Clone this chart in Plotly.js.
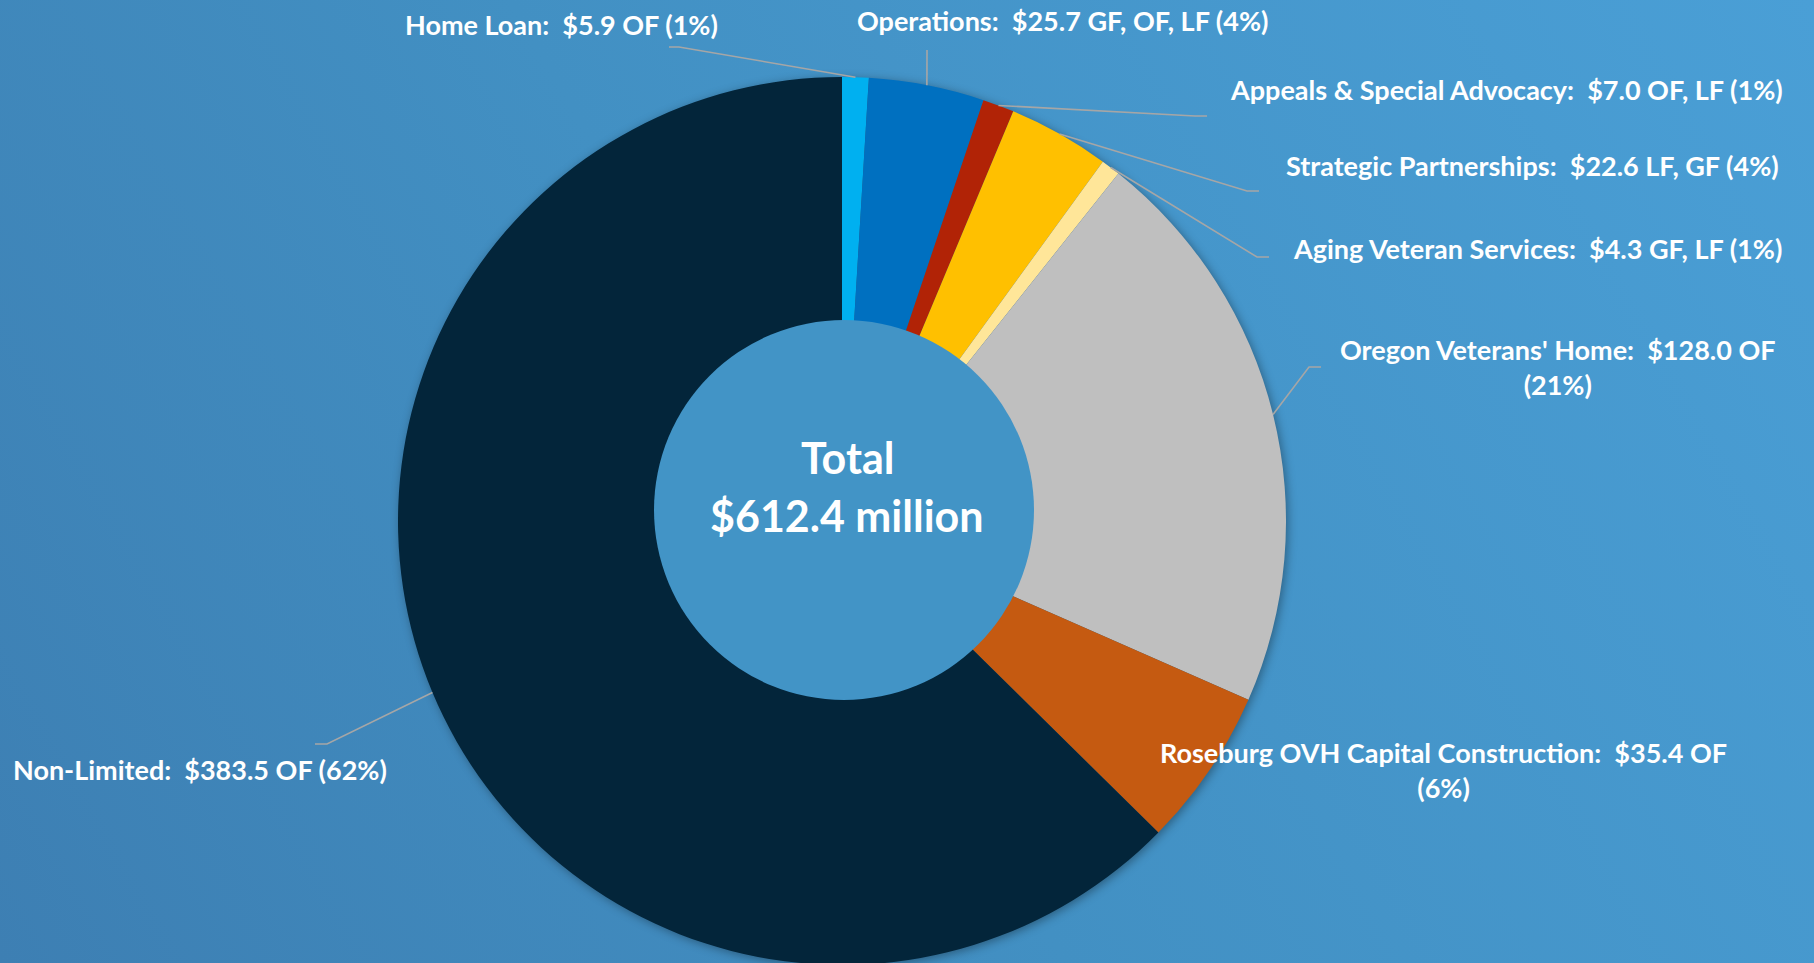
<!DOCTYPE html>
<html>
<head>
<meta charset="utf-8">
<script src="https://cdn.plot.ly/plotly-3.0.1.min.js"></script>
<style>
  html, body { margin: 0; padding: 0; overflow: hidden; width: 1814px; height: 963px; }
  body { background: linear-gradient(60deg, #3d7fb3 0%, #4290c3 45%, #4a9fd6 100%); }
  #chart { width: 1814px; height: 1000px; }
  #chart .pielayer { filter: drop-shadow(2px 2px 5px rgba(0, 0, 0, 0.35)); }
</style>
</head>
<body>
<div id="chart"></div>
<script>
// ---------- data ----------
const categories = [
  'Home Loan',
  'Operations',
  'Appeals & Special Advocacy',
  'Strategic Partnerships',
  'Aging Veteran Services',
  "Oregon Veterans' Home",
  'Roseburg OVH Capital Construction',
  'Non-Limited'
];
const values = [5.9, 25.7, 7.0, 22.6, 4.3, 128.0, 35.4, 383.5];
const fundSources = ['OF', 'GF, OF, LF', 'OF, LF', 'LF, GF', 'GF, LF', 'OF', 'OF', 'OF'];
const percentLabels = ['1%', '4%', '1%', '4%', '1%', '21%', '6%', '62%'];
const centerTitle = 'Total';
const centerValue = '$612.4 million';

// ---------- styling / layout ----------
const sliceColors = ['#00b0f0', '#0070c0', '#b12306', '#ffc000', '#ffe699', '#bfbfbf', '#c55a11', '#03253a'];
const W = 1814, H = 1000;          // graph div size (window shows top 963px)
const CX = 842, CY = 521, R = 444; // pie centre and radius in px
const HOLE = 0.40;                 // trace hole (covered by the slightly raised centre disc)
const DISC = { cx: 844, cy: 510, r: 190, color: '#4294c6' };
// label centre positions (px)
const labelPos = [[561, 24], [1062, 20], [1506, 90], [1532, 165], [1537, 248], [1558, 367], [1443, 770], [200, 769]];
const breakBeforePct = [false, false, false, false, false, true, true, false];
// leader line bend/end points (px), null = no leader
const leaderPts = [
  [[679, 47], [669, 47]],
  [[927, 50]],
  [[1195, 116], [1207, 116]],
  [[1247, 191], [1259, 191]],
  [[1257, 257], [1269, 257]],
  [[1309, 367], [1321, 367]],
  null,
  [[327, 744], [315, 744]]
];
const labelFont = { family: 'Lato, "Open Sans", sans-serif', size: 27, color: '#ffffff', weight: 700 };
const centerFont = { family: 'Lato, "Open Sans", sans-serif', size: 43, color: '#ffffff', weight: 700 };

const px = x => x / W;
const py = y => 1 - y / H;

// ---------- derived ----------
const total = values.reduce((a, b) => a + b, 0);
let cum = 0;
const midAngles = values.map(v => { const a = (cum + v / 2) / total * 2 * Math.PI; cum += v; return a; });

const annotations = categories.map((c, i) => ({
  text: c + ':\u00a0 $' + values[i].toFixed(1) + ' ' + fundSources[i] + (breakBeforePct[i] ? '<br>' : ' ') + '(' + percentLabels[i] + ')',
  x: px(labelPos[i][0]), y: py(labelPos[i][1]),
  xref: 'paper', yref: 'paper', xanchor: 'center', yanchor: 'middle',
  align: 'center', showarrow: false, font: labelFont
}));
annotations.push({ text: centerTitle, x: px(847), y: py(458), xref: 'paper', yref: 'paper',
  xanchor: 'center', yanchor: 'middle', showarrow: false, font: centerFont });
annotations.push({ text: centerValue, x: px(847), y: py(515), xref: 'paper', yref: 'paper',
  xanchor: 'center', yanchor: 'middle', showarrow: false, font: centerFont });

const shapes = [{
  type: 'circle', xref: 'paper', yref: 'paper', layer: 'above',
  x0: px(DISC.cx - DISC.r), x1: px(DISC.cx + DISC.r),
  y0: py(DISC.cy + DISC.r), y1: py(DISC.cy - DISC.r),
  fillcolor: DISC.color, line: { width: 0 }
}];
leaderPts.forEach((pts, i) => {
  if (!pts) return;
  const a = midAngles[i];
  const sx = CX + R * Math.sin(a), sy = CY - R * Math.cos(a);
  let d = 'M ' + px(sx) + ' ' + py(sy);
  pts.forEach(p => { d += ' L ' + px(p[0]) + ' ' + py(p[1]); });
  shapes.push({ type: 'path', path: d, xref: 'paper', yref: 'paper',
    line: { color: '#a6a6a6', width: 1.6 } });
});

const trace = {
  type: 'pie',
  labels: categories,
  values: values,
  sort: false,
  direction: 'clockwise',
  rotation: 0,
  hole: HOLE,
  textinfo: 'none',
  hoverinfo: 'label+value+percent',
  marker: { colors: sliceColors, line: { width: 0 } },
  domain: { x: [px(CX - R), px(CX + R)], y: [py(CY + R), py(CY - R)] },
  showlegend: false
};

const layout = {
  width: W, height: H,
  margin: { l: 0, r: 0, t: 0, b: 0 },
  paper_bgcolor: 'rgba(0,0,0,0)',
  plot_bgcolor: 'rgba(0,0,0,0)',
  showlegend: false,
  annotations: annotations,
  shapes: shapes
};

Plotly.newPlot('chart', [trace], layout, { displayModeBar: false, staticPlot: true });
</script>
</body>
</html>
